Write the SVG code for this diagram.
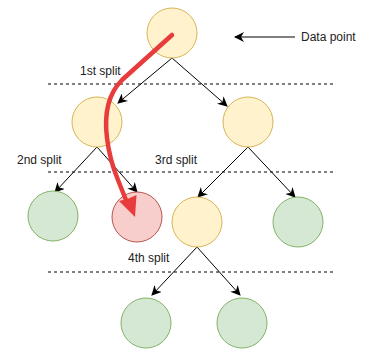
<svg xmlns="http://www.w3.org/2000/svg" width="370" height="350" viewBox="0 0 370 350">
<defs>
<style>
.y{fill:#fff2cc;stroke:#d6b656;stroke-width:1}
.g{fill:#d5e8d4;stroke:#82b366;stroke-width:1}
.r{fill:#f8cecc;stroke:#b85450;stroke-width:1}
.e{stroke:#000;stroke-width:1;fill:none;marker-end:url(#a)}
.d{stroke:#000;stroke-width:1;stroke-dasharray:3 3;fill:none}
text{font-family:"Liberation Sans",Arial,sans-serif;font-size:12px;fill:#222}
</style>
<marker id="a" viewBox="0 0 10 10" refX="9" refY="5" markerWidth="10" markerHeight="10" markerUnits="userSpaceOnUse" orient="auto">
<path d="M0,0 L10,5 L0,10 L3,5 Z" fill="#000"/>
</marker>
</defs>
<g id="guides">
<line class="d" x1="48" y1="84" x2="335" y2="84"/>
<line class="d" x1="48" y1="172" x2="335" y2="172"/>
<line class="d" x1="48" y1="272" x2="335" y2="272"/>
</g>
<g id="connectors">
<line class="e" x1="172" y1="58" x2="118" y2="103"/>
<line class="e" x1="172" y1="58" x2="227" y2="106"/>
<line class="e" x1="97" y1="147" x2="55" y2="192"/>
<line class="e" x1="97" y1="147" x2="137" y2="192"/>
<line class="e" x1="248" y1="147" x2="198" y2="197"/>
<line class="e" x1="248" y1="147" x2="295" y2="197"/>
<line class="e" x1="197" y1="247" x2="152" y2="295"/>
<line class="e" x1="197" y1="247" x2="240" y2="295"/>
<line class="e" x1="295" y1="37" x2="235" y2="37"/>
</g>
<g id="n0"><circle class="y" cx="172" cy="33" r="25"/></g>
<g id="n1"><circle class="y" cx="97" cy="122" r="25"/></g>
<g id="n2"><circle class="y" cx="248" cy="122" r="25"/></g>
<g id="n3"><circle class="g" cx="53" cy="216" r="25"/></g>
<g id="n4"><circle class="r" cx="137" cy="217" r="25"/></g>
<g id="n5"><circle class="y" cx="197" cy="222" r="25"/></g>
<g id="n6"><circle class="g" cx="298" cy="222" r="25"/></g>
<g id="n7"><circle class="g" cx="146" cy="323" r="25"/></g>
<g id="n8"><circle class="g" cx="242" cy="323" r="25"/></g>
<g id="path">
<path d="M172,35 L122,80 C108,94 104,114 107,138 C109,155 113,168 118,180 L126,200" stroke="#e83c3c" stroke-width="4.5" fill="none" stroke-linecap="round"/>
<polygon points="135,217 119,201 127.5,199 136.5,195" fill="#e83c3c"/>
</g>
<g id="labels">
<text x="80" y="75">1st split</text>
<text x="17" y="164">2nd split</text>
<text x="155" y="164">3rd split</text>
<text x="128" y="262">4th split</text>
<text x="301" y="41">Data point</text>
</g>
</svg>
